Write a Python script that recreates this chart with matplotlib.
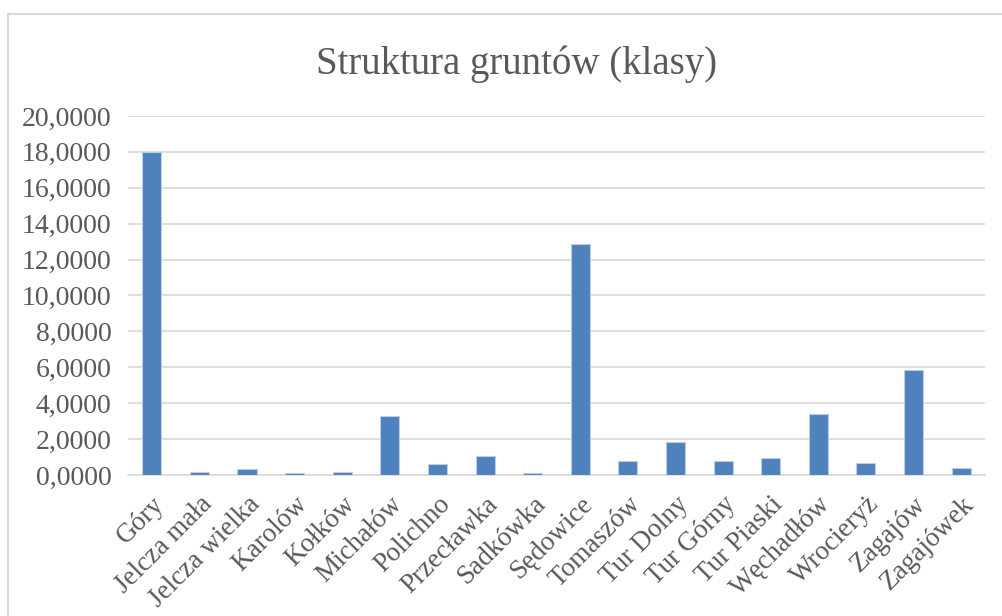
import matplotlib.pyplot as plt
from matplotlib.patches import Rectangle
from matplotlib.ticker import FuncFormatter

# data
villages = ['Góry', 'Jelcza mała', 'Jelcza wielka', 'Karolów', 'Kołków', 'Michałów',
            'Polichno', 'Przecławka', 'Sadkówka', 'Sędowice', 'Tomaszów', 'Tur Dolny',
            'Tur Górny', 'Tur Piaski', 'Węchadłów', 'Wrocieryż', 'Zagajów', 'Zagajówek']
values = [18.0, 0.17, 0.32, 0.10, 0.17, 3.29,
          0.61, 1.06, 0.09, 12.87, 0.76, 1.82,
          0.76, 0.93, 3.40, 0.69, 5.85, 0.37]
y_ticks = [0, 2, 4, 6, 8, 10, 12, 14, 16, 18, 20]

plt.rcParams['font.family'] = ['Liberation Serif', 'DejaVu Serif']
text_color = '#595959'

fig = plt.figure(figsize=(10.03, 6.16), dpi=100)
fig.patches.append(Rectangle((8 / 1003, -0.1), 1.2, 1.1 - 14 / 616,
                             transform=fig.transFigure, fill=False,
                             edgecolor='#D9D9D9', linewidth=1.5))

ax = fig.add_axes([0.1276, 0.2289, 0.8544, 0.5828])
x = range(len(villages))
ax.bar(x, values, width=0.4, color='#4F81BD', edgecolor='#B9CDE5', linewidth=0.8, zorder=3)

ax.set_xlim(-0.5, len(villages) - 0.5)
ax.set_ylim(0, 20)
ax.set_yticks(y_ticks)
ax.yaxis.set_major_formatter(FuncFormatter(lambda v, p: f'{v:.4f}'.replace('.', ',')))
ax.grid(axis='y', color='#D9D9D9', linewidth=1.2, zorder=0)

ax.set_xticks(list(x))
ax.set_xticklabels(villages, rotation=45, ha='right', rotation_mode='anchor')
ax.tick_params(axis='both', length=0, colors=text_color)
ax.tick_params(axis='y', pad=12, labelsize=20)
ax.tick_params(axis='x', pad=12, labelsize=19.5)

for side in ['top', 'right', 'left']:
    ax.spines[side].set_visible(False)
ax.spines['bottom'].set_color('#D9D9D9')
ax.spines['bottom'].set_linewidth(1.2)

fig.text(0.515, 0.895, 'Struktura gruntów (klasy)', ha='center', va='center',
         fontsize=28, color=text_color)

fig.savefig('out.png', dpi=100)
